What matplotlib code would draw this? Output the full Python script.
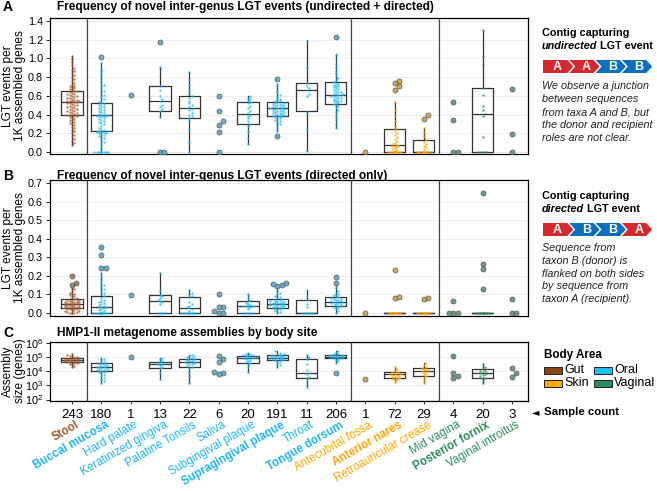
import numpy as np
import matplotlib.pyplot as plt
from matplotlib.colors import to_rgb
from matplotlib.patches import Polygon, Rectangle
from matplotlib.ticker import LogLocator, NullFormatter, FixedLocator
import matplotlib.transforms as mtrans

plt.rcParams['font.family'] = ['Liberation Sans', 'DejaVu Sans']

W, H = 657, 491

sites = ['Stool', 'Buccal mucosa', 'Hard palate', 'Keratinized gingiva', 'Palatine Tonsils',
         'Saliva', 'Subgingival plaque', 'Supragingival plaque', 'Throat', 'Tongue dorsum',
         'Antecubital fossa', 'Anterior nares', 'Retroauricular crease',
         'Mid vagina', 'Posterior fornix', 'Vaginal introitus']
areas = ['Gut', 'Oral', 'Oral', 'Oral', 'Oral', 'Oral', 'Oral', 'Oral', 'Oral', 'Oral',
         'Skin', 'Skin', 'Skin', 'Vaginal', 'Vaginal', 'Vaginal']
counts = [243, 180, 1, 13, 22, 6, 20, 191, 11, 206, 1, 72, 29, 4, 20, 3]
major = [True, True, False, False, False, False, False, True, False, True,
         False, True, False, False, True, False]

area_col = {'Gut': '#A0592D', 'Oral': '#1DB6F0', 'Skin': '#FFA500', 'Vaginal': '#2E8B57'}
legend_col = {'Gut': '#8B4513', 'Oral': '#1EC0F5', 'Skin': '#FFA500', 'Vaginal': '#2E8B57'}

# ---- panel A: undirected + directed (whislo, q1, med, q3, whishi)
box_a = [(0.08, 0.40, 0.535, 0.655, 1.03), (0.0, 0.22, 0.40, 0.524, 0.955), None,
         (0.37, 0.44, 0.55, 0.70, 0.91), (0.0, 0.36, 0.47, 0.60, 0.85), None,
         (0.086, 0.30, 0.41, 0.53, 0.60), (0.22, 0.39, 0.47, 0.535, 0.73),
         (0.01, 0.434, 0.66, 0.74, 1.195), (0.255, 0.513, 0.614, 0.746, 1.045), None,
         (0.0, 0.0, 0.072, 0.248, 0.53), (0.0, 0.0, 0.0, 0.126, 0.26), None,
         (0.0, 0.0, 0.406, 0.68, 1.296), None]
pts_a = [
    [0.08, 0.10, 0.12, 0.14, 0.16, 0.18, 0.20, 0.22, 0.24, 0.26, 0.27, 0.29, 0.30, 0.31, 0.32,
     0.33, 0.34, 0.35, 0.36, 0.37, 0.38, 0.38, 0.39, 0.40, 0.40, 0.41, 0.42, 0.42, 0.43, 0.44,
     0.44, 0.45, 0.46, 0.46, 0.47, 0.48, 0.48, 0.49, 0.50, 0.50, 0.51, 0.52, 0.52, 0.53, 0.53,
     0.54, 0.54, 0.55, 0.55, 0.56, 0.56, 0.57, 0.58, 0.58, 0.59, 0.60, 0.60, 0.61, 0.62, 0.62,
     0.63, 0.64, 0.65, 0.65, 0.66, 0.67, 0.68, 0.69, 0.70, 0.71, 0.73, 0.74, 0.76, 0.78, 0.80,
     0.82, 0.84, 0.86, 0.88, 0.90, 0.93, 0.96, 0.99, 1.03],
    [0, 0, 0, 0, 0, 0, 0, 0, 0, 0, 0.03, 0.06, 0.09, 0.11, 0.13, 0.15, 0.16, 0.17, 0.18, 0.19,
     0.20, 0.20, 0.21, 0.21, 0.22, 0.22, 0.23, 0.24, 0.25, 0.26, 0.28, 0.30, 0.31, 0.32, 0.33,
     0.34, 0.35, 0.36, 0.37, 0.38, 0.38, 0.39, 0.39, 0.40, 0.40, 0.41, 0.42, 0.43, 0.44, 0.45,
     0.46, 0.47, 0.48, 0.49, 0.50, 0.51, 0.52, 0.53, 0.55, 0.57, 0.59, 0.61, 0.63, 0.65, 0.67,
     0.70, 0.72, 0.75, 0.78, 0.82, 0.86, 0.90, 0.95],
    [],
    [0.37, 0.44, 0.46, 0.48, 0.50, 0.55, 0.57, 0.60, 0.66, 0.70, 0.91],
    [0, 0.10, 0.25, 0.33, 0.36, 0.38, 0.40, 0.42, 0.45, 0.46, 0.47, 0.48, 0.50, 0.52, 0.55,
     0.58, 0.60, 0.62, 0.66, 0.72, 0.77, 0.85],
    [],
    [0.09, 0.15, 0.20, 0.24, 0.28, 0.30, 0.33, 0.36, 0.39, 0.40, 0.42, 0.44, 0.47, 0.49, 0.52,
     0.53, 0.55, 0.57, 0.58, 0.60],
    [0.22, 0.25, 0.28, 0.30, 0.32, 0.33, 0.34, 0.35, 0.36, 0.37, 0.38, 0.38, 0.39, 0.39, 0.40,
     0.40, 0.41, 0.41, 0.42, 0.42, 0.43, 0.43, 0.44, 0.44, 0.45, 0.45, 0.46, 0.46, 0.47, 0.47,
     0.47, 0.48, 0.48, 0.49, 0.49, 0.50, 0.50, 0.51, 0.51, 0.52, 0.52, 0.53, 0.54, 0.55, 0.56,
     0.57, 0.59, 0.61, 0.63, 0.66, 0.70, 0.73],
    [0.01, 0.25, 0.43, 0.60, 0.62, 0.66, 0.68, 0.70, 0.74, 0.90, 1.19],
    [0.26, 0.30, 0.34, 0.37, 0.40, 0.43, 0.45, 0.47, 0.49, 0.50, 0.51, 0.52, 0.53, 0.54, 0.55,
     0.55, 0.56, 0.57, 0.58, 0.58, 0.59, 0.60, 0.60, 0.61, 0.61, 0.62, 0.62, 0.63, 0.64, 0.64,
     0.65, 0.66, 0.67, 0.68, 0.69, 0.70, 0.71, 0.72, 0.73, 0.74, 0.75, 0.77, 0.79, 0.81, 0.84,
     0.87, 0.90, 0.94, 0.98, 1.04],
    [],
    [0, 0, 0, 0, 0, 0, 0, 0, 0, 0, 0, 0, 0, 0, 0, 0, 0, 0, 0, 0, 0, 0, 0.01, 0.02, 0.03, 0.04,
     0.05, 0.06, 0.07, 0.07, 0.08, 0.09, 0.10, 0.12, 0.14, 0.16, 0.18, 0.20, 0.22, 0.25, 0.28,
     0.33, 0.38, 0.45, 0.53],
    [0, 0, 0, 0, 0, 0, 0, 0, 0, 0, 0, 0, 0, 0, 0.03, 0.05, 0.07, 0.09, 0.11, 0.13, 0.17, 0.21, 0.26],
    [],
    [0, 0, 0, 0, 0, 0.165, 0.39, 0.41, 0.45, 0.49, 0.61, 0.68, 0.93, 1.03, 1.30],
    [],
]
out_a = [[], [1.016], [0.61], [1.17, 0, 0], [], [0.60, 0.44, 0.33, 0.29, 0.21, 0.0], [],
         [0.775, 0.175], [], [1.23], [0.0], [0.76, 0.74, 0.70, 0.66], [0.40, 0.355],
         [0.535, 0.34, 0, 0], [], [0.67, 0.19, 0.0]]

# ---- panel B: directed only
box_b = [(0, 0.027, 0.05, 0.075, 0.135), (0, 0, 0.032, 0.09, 0.217), None,
         (0, 0, 0.067, 0.097, 0.215), (0, 0, 0.025, 0.085, 0.125), None,
         (0, 0, 0.038, 0.063, 0.10), (0, 0.028, 0.05, 0.075, 0.135),
         (0, 0, 0, 0.07, 0.125), (0, 0.036, 0.059, 0.084, 0.152), None,
         (0, 0, 0, 0, 0), (0, 0, 0, 0, 0), None, (0, 0, 0, 0, 0), None]
pts_b = [
    [0, 0, 0, 0.003, 0.006, 0.01, 0.012, 0.015, 0.018, 0.02, 0.022, 0.024, 0.026, 0.028, 0.03,
     0.031, 0.033, 0.035, 0.036, 0.038, 0.04, 0.041, 0.043, 0.044, 0.046, 0.047, 0.048, 0.05,
     0.05, 0.051, 0.052, 0.054, 0.055, 0.057, 0.058, 0.06, 0.062, 0.064, 0.066, 0.068, 0.07,
     0.072, 0.075, 0.078, 0.082, 0.086, 0.09, 0.095, 0.10, 0.105, 0.11, 0.12, 0.13, 0.135],
    [0, 0, 0, 0, 0, 0, 0, 0, 0, 0, 0, 0, 0, 0, 0, 0, 0, 0, 0, 0, 0.005, 0.01, 0.015, 0.02,
     0.025, 0.03, 0.032, 0.035, 0.04, 0.045, 0.05, 0.055, 0.06, 0.065, 0.07, 0.08, 0.09, 0.10,
     0.11, 0.12, 0.13, 0.14, 0.15, 0.16, 0.18, 0.20, 0.217],
    [],
    [0, 0, 0, 0, 0.05, 0.06, 0.067, 0.07, 0.08, 0.09, 0.097, 0.12, 0.215],
    [0, 0, 0, 0, 0, 0, 0, 0, 0, 0.01, 0.02, 0.025, 0.03, 0.04, 0.05, 0.06, 0.085, 0.09, 0.10,
     0.11, 0.125],
    [],
    [0, 0, 0, 0, 0, 0.02, 0.03, 0.035, 0.038, 0.038, 0.04, 0.04, 0.045, 0.05, 0.055, 0.063,
     0.07, 0.08, 0.10],
    [0, 0.005, 0.01, 0.015, 0.02, 0.024, 0.027, 0.03, 0.032, 0.034, 0.036, 0.038, 0.04, 0.042,
     0.044, 0.046, 0.047, 0.048, 0.05, 0.05, 0.051, 0.052, 0.054, 0.055, 0.057, 0.059, 0.061,
     0.063, 0.066, 0.069, 0.072, 0.075, 0.08, 0.085, 0.09, 0.10, 0.11, 0.12, 0.135],
    [0, 0, 0, 0, 0, 0, 0.03, 0.05, 0.07, 0.09, 0.125],
    [0, 0.01, 0.02, 0.025, 0.03, 0.033, 0.036, 0.04, 0.043, 0.046, 0.049, 0.052, 0.055, 0.057,
     0.059, 0.061, 0.063, 0.066, 0.069, 0.072, 0.075, 0.078, 0.081, 0.084, 0.09, 0.095, 0.10,
     0.11, 0.12, 0.135, 0.152],
    [],
    [0, 0, 0, 0, 0, 0, 0, 0, 0, 0, 0, 0, 0, 0, 0, 0, 0, 0, 0, 0, 0, 0, 0, 0, 0, 0, 0, 0, 0, 0],
    [0, 0, 0, 0, 0, 0, 0, 0, 0, 0, 0, 0, 0, 0, 0],
    [],
    [0, 0, 0, 0, 0, 0, 0, 0, 0, 0, 0, 0],
    [],
]
out_b = [[0.15, 0.16, 0.20], [0.24, 0.242, 0.31, 0.355], [0.095], [], [],
         [0.10, 0.035, 0.03, 0.01, 0, 0], [], [0.145, 0.15, 0.155, 0.16], [], [0.16, 0.196],
         [0], [0.233, 0.083, 0.088], [0.08, 0.075], [0.066, 0, 0, 0],
         [0.648, 0.263, 0.237, 0.13], [0.074, 0, 0]]

# ---- panel C: assembly size, log10(genes)
box_c = [(4.33, 4.64, 4.80, 4.97, 5.20), (3.19, 4.02, 4.29, 4.57, 4.97), None,
         (3.43, 4.21, 4.54, 4.64, 4.93), (3.19, 4.33, 4.64, 4.86, 5.16), None,
         (3.97, 4.57, 4.93, 5.09, 5.29), (4.29, 4.81, 4.97, 5.16, 5.40),
         (2.90, 3.50, 3.90, 4.88, 5.16), (4.57, 4.93, 5.04, 5.16, 5.40), None,
         (3.26, 3.50, 3.79, 3.97, 4.33), (3.14, 3.69, 4.02, 4.21, 4.57), None,
         (3.14, 3.50, 3.86, 4.14, 4.50), None]
pts_c = [
    [4.33, 4.40, 4.48, 4.54, 4.58, 4.62, 4.64, 4.66, 4.68, 4.70, 4.72, 4.74, 4.76, 4.78, 4.79,
     4.80, 4.81, 4.82, 4.84, 4.86, 4.88, 4.90, 4.92, 4.94, 4.97, 5.00, 5.04, 5.08, 5.13, 5.20],
    [3.19, 3.30, 3.42, 3.55, 3.65, 3.75, 3.85, 3.92, 3.98, 4.02, 4.05, 4.08, 4.12, 4.15, 4.18,
     4.22, 4.25, 4.28, 4.30, 4.33, 4.36, 4.40, 4.44, 4.48, 4.52, 4.57, 4.62, 4.68, 4.75, 4.85,
     4.97],
    [],
    [3.43, 3.90, 4.21, 4.30, 4.45, 4.52, 4.54, 4.58, 4.60, 4.64, 4.70, 4.85, 4.93],
    [3.19, 3.60, 3.95, 4.25, 4.33, 4.40, 4.50, 4.55, 4.60, 4.62, 4.64, 4.66, 4.70, 4.75, 4.80,
     4.86, 4.90, 4.95, 5.00, 5.05, 5.10, 5.16],
    [],
    [3.97, 4.30, 4.50, 4.57, 4.65, 4.75, 4.82, 4.88, 4.92, 4.93, 4.95, 4.98, 5.02, 5.06, 5.09,
     5.12, 5.16, 5.20, 5.25, 5.29],
    [4.29, 4.45, 4.58, 4.68, 4.75, 4.80, 4.82, 4.85, 4.88, 4.90, 4.92, 4.94, 4.96, 4.97, 4.98,
     5.00, 5.02, 5.04, 5.06, 5.08, 5.10, 5.13, 5.16, 5.20, 5.25, 5.32, 5.40],
    [2.90, 3.30, 3.50, 3.60, 3.80, 3.90, 4.10, 4.50, 4.88, 5.00, 5.16],
    [4.57, 4.70, 4.80, 4.87, 4.92, 4.95, 4.98, 5.00, 5.02, 5.04, 5.05, 5.07, 5.09, 5.11, 5.13,
     5.16, 5.20, 5.25, 5.32, 5.40],
    [],
    [3.26, 3.35, 3.42, 3.48, 3.50, 3.55, 3.60, 3.65, 3.70, 3.74, 3.77, 3.79, 3.81, 3.84, 3.88,
     3.92, 3.97, 4.05, 4.15, 4.33],
    [3.14, 3.40, 3.60, 3.69, 3.80, 3.90, 3.98, 4.02, 4.06, 4.10, 4.15, 4.21, 4.30, 4.45, 4.57],
    [],
    [3.14, 3.35, 3.50, 3.55, 3.65, 3.75, 3.82, 3.86, 3.90, 3.95, 4.00, 4.05, 4.14, 4.30, 4.50],
    [],
]
out_c = [[], [], [5.04], [], [], [5.05, 4.85, 4.63, 3.85, 3.83, 3.95], [], [], [], [3.90],
         [3.45], [], [], [5.11, 3.86, 3.70, 3.55], [], [4.21, 3.90, 3.61]]


def blend(c, other, t):
    a, b = np.array(to_rgb(c)), np.array(to_rgb(other))
    return tuple(a * (1 - t) + b * t)


def swarm(ax, x0, vals, d, half):
    # simple beeswarm in pixel space
    yp = ax.transData.transform(np.column_stack([np.full(len(vals), x0), vals]))[:, 1]
    ppu = ax.transData.transform([(1, 0)])[0, 0] - ax.transData.transform([(0, 0)])[0, 0]
    cands = [0.0]
    k = 1
    while k * d <= half:
        cands += [k * d, -k * d]
        k += 1
    placed = []
    offs = np.zeros(len(vals))
    for i in np.argsort(yp, kind='stable'):
        near = [(px, py) for px, py in placed if abs(py - yp[i]) < d]
        best, best_gap = 0.0, -1
        for c in cands:
            gap = min([np.hypot(c - px, yp[i] - py) for px, py in near], default=d)
            if gap >= d * 0.999:
                best = c
                break
            if gap > best_gap:
                best, best_gap = c, gap
        offs[i] = best
        placed.append((best, yp[i]))
    return x0 + offs / ppu


def draw_panel(ax, boxes, pts, outs, log=False):
    conv = (lambda v: 10 ** np.asarray(v, float)) if log else (lambda v: np.asarray(v, float))
    stats, pos = [], []
    for i, b in enumerate(boxes):
        if b is None:
            continue
        lo, q1, med, q3, hi = conv(b)
        stats.append(dict(whislo=lo, q1=q1, med=med, q3=q3, whishi=hi, fliers=[]))
        pos.append(i)
    lp = dict(color='#333333', lw=0.9)
    ax.bxp(stats, positions=pos, widths=0.72, showcaps=False, showfliers=False,
           boxprops=lp, whiskerprops=lp, medianprops=lp, zorder=2)
    for i in range(len(sites)):
        col = area_col[areas[i]]
        if pts[i]:
            v = conv(pts[i])
            ax.scatter(swarm(ax, i, v, 2.3, 9), v, s=3, color=col, alpha=0.75, lw=0, zorder=3)
        if outs[i]:
            v = conv(outs[i])
            ax.scatter(swarm(ax, i, v, 4.3, 9), v, s=13, color=blend(col, '#8a8a8a', 0.45),
                       edgecolor='#5a5a5a', lw=0.6, alpha=0.85, zorder=4)
    for xs in (0.5, 9.5, 12.5):
        ax.axvline(xs, color='#444444', lw=0.9, zorder=1)
    ax.set_xlim(-0.75, 15.55)
    ax.yaxis.grid(True, color='#ebebeb', lw=0.6)
    ax.set_axisbelow(True)
    for s in ax.spines.values():
        s.set_linewidth(0.9)
    ax.tick_params(axis='y', labelsize=7.8, length=3, width=0.6, pad=2)


fig = plt.figure(figsize=(W / 100, H / 100), dpi=100)
ov = fig.add_axes([0, 0, 1, 1])
ov.set_xlim(0, W)
ov.set_ylim(H, 0)
ov.axis('off')


def fax(top, bottom):
    return fig.add_axes([50 / W, 1 - bottom / H, 478 / W, (bottom - top) / H])


ax_a = fax(18, 154)
ax_b = fax(180, 316)
ax_c = fax(342, 401)

ax_a.set_xlim(-0.75, 15.55)
ax_a.set_ylim(-0.02, 1.43)
ax_a.set_yticks(np.arange(0, 1.41, 0.2))
ax_a.set_yticklabels(['%.1f' % t for t in np.arange(0, 1.41, 0.2)])
draw_panel(ax_a, box_a, pts_a, out_a)

ax_b.set_xlim(-0.75, 15.55)
ax_b.set_ylim(-0.016, 0.716)
ax_b.set_yticks(np.arange(0, 0.71, 0.1))
ax_b.set_yticklabels(['%.1f' % t for t in np.arange(0, 0.71, 0.1)])
draw_panel(ax_b, box_b, pts_b, out_b)

ax_c.set_xlim(-0.75, 15.55)
ax_c.set_yscale('log')
ax_c.set_ylim(10 ** 1.9, 10 ** 6.07)
ax_c.yaxis.set_major_locator(FixedLocator([1e2, 1e3, 1e4, 1e5, 1e6]))
ax_c.yaxis.set_minor_locator(LogLocator(base=10, subs=np.arange(2, 10)))
ax_c.yaxis.set_minor_formatter(NullFormatter())
draw_panel(ax_c, box_c, pts_c, out_c, log=True)
ax_c.tick_params(axis='y', which='minor', length=1.8, width=0.5)

for ax in (ax_a, ax_b):
    ax.set_xticks(range(16))
    ax.tick_params(axis='x', length=0, labelbottom=False)
ax_c.set_xticks(range(16))
ax_c.set_xticklabels([str(c) for c in counts])
ax_c.tick_params(axis='x', length=2.5, width=0.6, labelsize=9.5, pad=3)

# site labels
tr = mtrans.blended_transform_factory(ax_c.transData, fig.transFigure)
for i, name in enumerate(sites):
    fig.text(i + 0.12, 1 - 419 / H, name, transform=tr, rotation=30, rotation_mode='anchor',
             ha='right', va='top', fontsize=8.3, color=area_col[areas[i]],
             fontweight='bold' if major[i] else 'normal')

# panel letters, titles, y labels
titles = ['Frequency of novel inter-genus LGT events (undirected + directed)',
          'Frequency of novel inter-genus LGT events (directed only)',
          'HMP1-II metagenome assemblies by body site']
for letter, title, y in zip('ABC', titles, (7, 176, 333)):
    ov.text(3, y, letter, fontsize=10, fontweight='bold', va='center')
    ov.text(57, y, title, fontsize=8.6, fontweight='bold', va='center')
for lab, y in (('LGT events per\n1K assembled genes', 86),
               ('LGT events per\n1K assembled genes', 248),
               ('Assembly\nsize (genes)', 371)):
    ov.text(14, y, lab, rotation=90, ha='center', va='center', fontsize=8.6, linespacing=0.95,
            multialignment='center')

# right hand annotation: contig cartoons
red, blue = '#D42A2F', '#0B6FC0'


def chevrons(y0, y1, letters, cols):
    x, w, g, t = 543, 24.3, 2.0, 6.0
    ym = (y0 + y1) / 2
    for k, (L, c) in enumerate(zip(letters, cols)):
        left = x + k * (w + g)
        pts = [(left, y0), (left + w, y0), (left + w + t, ym), (left + w, y1), (left, y1)]
        if k > 0:
            pts.append((left + t, ym))
        ov.add_patch(Polygon(pts, closed=True, color=c, lw=0))
        ov.text(left + (w + t) / 2 + (t / 2 if k > 0 else 0) - 1, ym + 0.5, L, color='white',
                fontsize=9, fontweight='bold', ha='center', va='center')


rend = fig.canvas.get_renderer()


def heading(y, word):
    ov.text(542, y, 'Contig capturing', fontsize=7.8, fontweight='bold', va='center')
    t = ov.text(542, y + 13, word, fontsize=7.8, fontweight='bold', style='italic', va='center')
    wpx = t.get_window_extent(renderer=rend).width
    ov.text(542 + wpx, y + 13, ' LGT event', fontsize=7.8, fontweight='bold', va='center')


heading(33, 'undirected')
chevrons(60, 73, 'AABB', [red, red, blue, blue])
for k, line in enumerate(['We observe a junction', 'between sequences', 'from taxa A and B, but',
                          'the donor and recipient', 'roles are not clear.']):
    ov.text(542, 86 + 13 * k, line, fontsize=7.8, style='italic', va='center', color='#222222')

heading(196, 'directed')
chevrons(223, 236, 'ABBA', [red, blue, blue, red])
for k, line in enumerate(['Sequence from', 'taxon B (donor) is', 'flanked on both sides',
                          'by sequence from', 'taxon A (recipient).']):
    ov.text(542, 248 + 12.8 * k, line, fontsize=7.8, style='italic', va='center',
            color='#222222')

# legend
ov.text(544, 355, 'Body Area', fontsize=8.4, fontweight='bold', va='center')
for k, a in enumerate(['Gut', 'Skin', 'Oral', 'Vaginal']):
    cx = 544 if k < 2 else 594
    cy = 370 + 13 * (k % 2)
    ov.add_patch(Rectangle((cx, cy - 3.5), 18, 7, facecolor=legend_col[a], edgecolor='#222222',
                           lw=0.7))
    ov.text(cx + 20, cy, a, fontsize=9, va='center')

ov.text(532, 412, '\u25c4', family='DejaVu Sans', fontsize=7, va='center')
ov.text(544, 412, 'Sample count', fontsize=8.2, fontweight='bold', va='center')

fig.savefig('out.png', dpi=100)
